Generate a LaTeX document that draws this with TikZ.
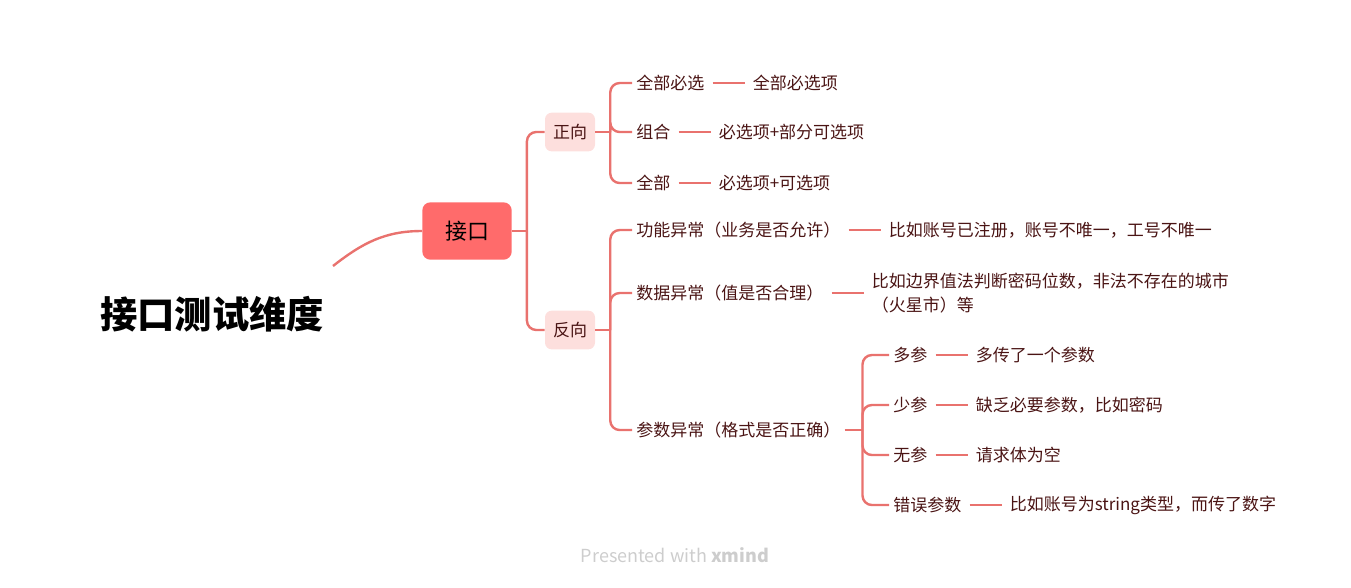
\documentclass[tikz,border=0pt]{standalone}
\usepackage{fontspec}
\setmainfont{Noto Sans CJK SC}
\usepackage{tikz}
\usetikzlibrary{positioning,calc}
\definecolor{mapline}{HTML}{E9726E}
\definecolor{maproot}{HTML}{FF6B6B}
\definecolor{mapsub}{HTML}{FDDFDD}
\definecolor{mapink}{HTML}{4A1414}
\definecolor{mapgray}{HTML}{CDCDCD}

\begin{document}
\begin{tikzpicture}[x=0.75pt,y=-0.75pt,
    rootbox/.style={fill=maproot,rounded corners=6pt,minimum width=67pt,minimum height=43pt,
      font=\fontsize{16.5}{19}\selectfont,text=black},
    subbox/.style={fill=mapsub,rounded corners=5pt,minimum width=37.5pt,minimum height=29pt,
      font=\fontsize{12.75}{15}\selectfont,text=mapink},
    leaf/.style={inner xsep=3pt,inner ysep=2pt,font=\fontsize{12.75}{18.5}\selectfont,
      text=mapink,align=left},
    link/.style={draw=mapline,line width=1.8pt,rounded corners=7pt},
    dashlink/.style={draw=mapline,line width=1.8pt,shorten <=3pt,shorten >=3pt}]
  \useasboundingbox (0,0) rectangle (1351,587);

  % title and root
  \node[font=\fontsize{28}{32}\selectfont\bfseries] (title) at (212,314) {接口测试维度};
  \coordinate (tstart) at (333,266);
  \node[rootbox] (jk) at (467,231) {接口};
  \draw[link] (tstart) to[out=38,in=180] (jk.west);

  \node[subbox] (zx) at (570,132) {正向};
  \node[subbox] (fx) at (570,330) {反向};
  \coordinate (jkj) at ($(jk.east)+(15,0)$);
  \draw[link] (jk.east) -- (jkj);
  \foreach \c in {zx,fx} \draw[link] (jkj) |- (\c.west);

  % positive cases
  \node[leaf,anchor=west] (a1) at (632,83) {全部必选};
  \node[leaf,anchor=west] (a2) at (632,132) {组合};
  \node[leaf,anchor=west] (a3) at (632,183) {全部};
  \node[leaf,right=30pt of a1] (a1d) {全部必选项};
  \node[leaf,right=30pt of a2] (a2d) {必选项+部分可选项};
  \node[leaf,right=30pt of a3] (a3d) {必选项+可选项};
  \coordinate (zxj) at ($(zx.east)+(15,0)$);
  \draw[link] (zx.east) -- (zxj);
  \foreach \c in {a1,a2,a3} {
    \draw[link] (zxj) |- (\c.west);
    \draw[dashlink] (\c.east) -- (\c d.west);
  }

  % negative cases
  \node[leaf,anchor=west] (b1) at (632,230) {功能异常（业务是否允许）};
  \node[leaf,anchor=west] (b2) at (632,293) {数据异常（值是否合理）};
  \node[leaf,anchor=west] (b3) at (632,430) {参数异常（格式是否正确）};
  \node[leaf,right=30pt of b1] (b1d) {比如账号已注册，账号不唯一，工号不唯一};
  \node[leaf,right=30pt of b2] (b2d) {比如边界值法判断密码位数，非法不存在的城市\\（火星市）等};
  \coordinate (fxj) at ($(fx.east)+(15,0)$);
  \draw[link] (fx.east) -- (fxj);
  \foreach \c in {b1,b2,b3} \draw[link] (fxj) |- (\c.west);
  \foreach \c in {b1,b2} \draw[dashlink] (\c.east) -- (\c d.west);

  % parameter errors
  \node[leaf,anchor=west] (c1) at (889,355) {多参};
  \node[leaf,anchor=west] (c2) at (889,405) {少参};
  \node[leaf,anchor=west] (c3) at (889,455) {无参};
  \node[leaf,anchor=west] (c4) at (889,505) {错误参数};
  \node[leaf,right=30pt of c1] (c1d) {多传了一个参数};
  \node[leaf,right=30pt of c2] (c2d) {缺乏必要参数，比如密码};
  \node[leaf,right=30pt of c3] (c3d) {请求体为空};
  \node[leaf,right=30pt of c4] (c4d) {比如账号为string类型，而传了数字};
  \coordinate (b3j) at ($(b3.east)+(18,0)$);
  \draw[link] (b3.east) -- (b3j);
  \foreach \c in {c1,c2,c3,c4} {
    \draw[link] (b3j) |- (\c.west);
    \draw[dashlink] (\c.east) -- (\c d.west);
  }

  \node[font=\fontsize{13.5}{16}\selectfont,text=mapgray] (credit) at (675,555) {Presented with \textbf{xmind}};
\end{tikzpicture}
\end{document}
